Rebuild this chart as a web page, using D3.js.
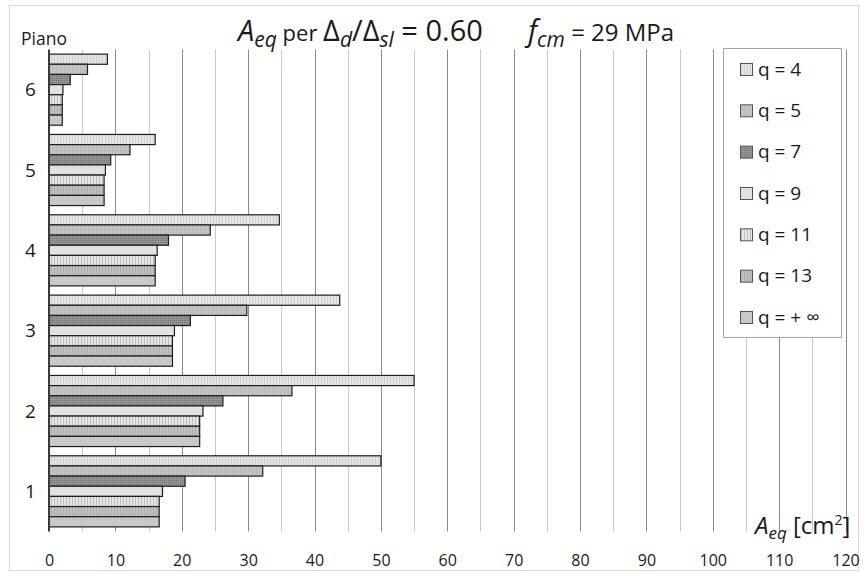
<!DOCTYPE html>
<html><head><meta charset="utf-8">
<script src="https://cdn.jsdelivr.net/npm/d3@7"></script>
<style>body{margin:0;background:#fff}svg{display:block}text{font-family:"Open Sans","Noto Sans",sans-serif;fill:#1a1a1a}</style>
</head><body>
<script>
const categories = ["1","2","3","4","5","6"];
const seriesNames = ["q = 4","q = 5","q = 7","q = 9","q = 11","q = 13","q = + ∞"];
const q4   = [50.0, 55.0, 43.8, 34.7, 16.0, 8.8];
const q5   = [32.2, 36.6, 29.8, 24.3, 12.2, 5.8];
const q7   = [20.5, 26.2, 21.3, 18.0, 9.3, 3.2];
const q9   = [17.1, 23.2, 18.9, 16.3, 8.5, 2.1];
const q11  = [16.6, 22.7, 18.6, 16.0, 8.3, 2.0];
const q13  = [16.6, 22.7, 18.6, 16.0, 8.3, 2.0];
const qInf = [16.6, 22.7, 18.6, 16.0, 8.3, 2.0];
const seriesValues = [q4, q5, q7, q9, q11, q13, qInf];
const xTicks = [0,10,20,30,40,50,60,70,80,90,100,110,120];
const gridTicks = d3.range(0, 125, 5);

const W = 864, H = 572;
const FONT = "'Open Sans','Noto Sans',sans-serif";
const svg = d3.select("body").append("svg").attr("width", W).attr("height", H);
const defs = svg.append("defs");

function pat(id, bg, draw, w, h) {
  const p = defs.append("pattern").attr("id", id).attr("patternUnits", "userSpaceOnUse")
    .attr("width", w).attr("height", h);
  p.append("rect").attr("width", w).attr("height", h).attr("fill", bg);
  draw(p);
}
pat("p0", "#e4e4e4", p => p.append("rect").attr("x", 0).attr("width", 1).attr("height", 4).attr("fill", "#d2d2d2"), 3, 4);
pat("p1", "#c2c2c2", p => p.append("rect").attr("x", 0).attr("width", 1).attr("height", 4).attr("fill", "#bbbbbb"), 4, 4);
pat("p2", "#8d8d8d", p => { p.append("rect").attr("x", 0).attr("y", 0).attr("width", 1).attr("height", 1).attr("fill", "#7a7a7a"); p.append("rect").attr("x", 1).attr("y", 1).attr("width", 1).attr("height", 1).attr("fill", "#9a9a9a"); }, 2, 2);
pat("p3", "#e2e2e2", p => {}, 4, 4);
pat("p4", "#e6e6e6", p => p.append("rect").attr("x", 0).attr("width", 1).attr("height", 4).attr("fill", "#bdbdbd"), 3, 4);
pat("p5", "#c0c0c0", p => p.append("rect").attr("x", 0).attr("width", 1).attr("height", 4).attr("fill", "#adadad"), 3, 4);
pat("p6", "#d4d4d4", p => { p.append("rect").attr("x", 0).attr("y", 0).attr("width", 1).attr("height", 1).attr("fill", "#bdbdbd"); p.append("rect").attr("x", 1).attr("y", 1).attr("width", 1).attr("height", 1).attr("fill", "#bdbdbd"); }, 2, 2);

// outer frame
svg.append("rect").attr("x", 9.5).attr("y", 5.5).attr("width", 849).attr("height", 565)
  .attr("fill", "none").attr("stroke", "#d9d9d9");

const x = d3.scaleLinear().domain([0, 120]).range([49, 845.5]);
const plotTop = 49.5, plotBot = 531.5;
const y = d3.scaleBand().domain(categories.slice().reverse()).range([plotTop, plotBot])
  .paddingInner(0.115).paddingOuter(0.0575);
const ySub = d3.scaleBand().domain(d3.range(seriesNames.length)).range([0, y.bandwidth()]);

// gridlines
svg.append("g").selectAll("line").data(gridTicks.filter(d => d > 0)).join("line")
  .attr("x1", d => Math.round(x(d)) + 0.5).attr("x2", d => Math.round(x(d)) + 0.5)
  .attr("y1", plotTop).attr("y2", plotBot)
  .attr("stroke", d => d % 10 === 0 ? "#8a8a8a" : "#c8c8c8").attr("stroke-width", 1);

// bars
const g = svg.append("g");
seriesValues.forEach((vals, si) => {
  g.selectAll(null).data(categories.map((c, i) => ({c, v: vals[i]}))).join("rect")
    .attr("x", x(0))
    .attr("y", d => y(d.c) + ySub(si))
    .attr("width", d => x(d.v) - x(0))
    .attr("height", ySub.bandwidth())
    .attr("fill", `url(#p${si})`)
    .attr("stroke", "#1e1e1e").attr("stroke-width", 1.2);
});

// left axis line
svg.append("line").attr("x1", 49).attr("x2", 49).attr("y1", plotTop).attr("y2", plotBot)
  .attr("stroke", "#3a3a3a").attr("stroke-width", 2);

// x tick labels
const xAxis = d3.axisBottom(x).tickValues(xTicks).tickSize(0).tickPadding(0);
const xa = svg.append("g").attr("transform", `translate(0,${plotBot})`).call(xAxis);
xa.select(".domain").remove();
xa.selectAll("text").attr("dy", null).attr("y", 34).style("font-size", "16px").style("font-family", FONT).attr("fill", "#1a1a1a");

// y category labels
const yAxis = d3.axisLeft(y).tickSize(0).tickPadding(0);
const ya = svg.append("g").call(yAxis);
ya.select(".domain").remove();
ya.selectAll("text").attr("x", 30.5).attr("text-anchor", "middle").attr("dy", "0.35em")
  .style("font-size", "19px").style("font-family", FONT).attr("fill", "#1a1a1a");

svg.append("text").attr("x", 21).attr("y", 45).style("font-size", "17.5px").text("Piano");

// title
const t = svg.append("text").attr("x", 238).attr("y", 41).style("font-size", "29px");
t.append("tspan").style("font-style", "italic").text("A");
t.append("tspan").style("font-style", "italic").style("font-size", "21px").attr("dy", 6).text("eq");
t.append("tspan").style("font-size", "22px").attr("dy", -6).text(" per ");
t.append("tspan").text("Δ");
t.append("tspan").style("font-style", "italic").style("font-size", "21px").attr("dy", 6).text("d");
t.append("tspan").attr("dy", -6).text("/Δ");
t.append("tspan").style("font-style", "italic").style("font-size", "21px").attr("dy", 6).text("sl");
t.append("tspan").attr("dy", -6).text(" = 0.60");
t.append("tspan").attr("x", 528).style("font-style", "italic").text("f");
t.append("tspan").style("font-style", "italic").style("font-size", "21px").attr("dy", 6).text("cm");
t.append("tspan").style("font-size", "24px").attr("dy", -6).text(" = 29 MPa");

// axis title
const at = svg.append("text").attr("x", 755).attr("y", 534).style("font-size", "24px");
at.append("tspan").style("font-style", "italic").text("A");
at.append("tspan").style("font-style", "italic").style("font-size", "17px").attr("dy", 5).text("eq");
at.append("tspan").attr("dy", -5).text(" [cm");
at.append("tspan").style("font-size", "14px").attr("dy", -9).text("2");
at.append("tspan").attr("dy", 9).text("]");

// legend
const lg = svg.append("g");
lg.append("rect").attr("x", 723.5).attr("y", 48.5).attr("width", 118).attr("height", 289)
  .attr("fill", "#fff").attr("stroke", "#a6a6a6");
const ly = d3.scalePoint().domain(d3.range(seriesNames.length)).range([69, 317]);
seriesNames.forEach((s, i) => {
  lg.append("rect").attr("x", 740.5).attr("y", ly(i) - 5.5).attr("width", 12).attr("height", 12)
    .attr("fill", `url(#p${i})`).attr("stroke", "#555").attr("stroke-width", 1);
  lg.append("text").attr("x", 758).attr("y", ly(i)).attr("dy", "0.35em").style("font-size", "19px").text(s);
});
</script>
</body></html>
